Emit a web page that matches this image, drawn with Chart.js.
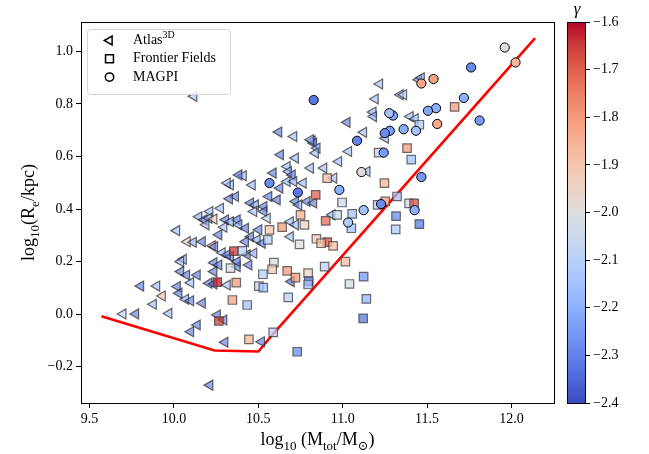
<!DOCTYPE html>
<html><head><meta charset="utf-8">
<script src="https://cdn.jsdelivr.net/npm/chart.js@4/dist/chart.umd.min.js"></script>
<style>
html,body{margin:0;padding:0;background:#fff;overflow:hidden}
#wrap{position:relative;width:649px;height:454px}
canvas{position:absolute;left:0;top:0}
</style></head>
<body><div id="wrap"><canvas id="main" width="649" height="454"></canvas><canvas id="cbar" width="649" height="454"></canvas></div>
<script>
// ---------- DATA ----------
const atlasMass = [10.118,11.219,11.193,11.341,11.18,11.183,11.026,11.124,10.621,10.71,10.819,11.253,11.45,11.361,11.4,11.43,10.828,10.848,10.631,10.72,10.838,11.035,10.976,10.809,10.671,10.588,10.888,10.411,10.679,10.701,10.671,10.71,10.766,10.627,10.464,10.335,10.947,11.144,10.789,10.937,10.828,10.562,10.612,10.454,10.483,10.533,10.473,10.533,10.72,10.74,10.365,10.553,10.69,10.72,10.375,10.385,10.424,10.503,10.454,10.493,10.69,10.424,10.523,10.434,10.473,10.335,10.444,10.375,10.385,10.316,10.329,10.276,10.213,10.148,10.178,10.207,10.237,10.306,10.335,10.19,10.296,10.016,10.266,10.079,10.115,10.168,10.227,10.241,10.286,10.056,10.237,10.266,10.316,10.04,10.04,10.075,10.138,10.099,10.237,10.207,10.237,10.316,9.803,9.898,10.02,9.931,10.03,10.069,10.099,10.168,9.878,9.698,9.773,9.97,10.257,10.296,10.138,10.099,10.302,10.213,10.695,10.519,10.375,10.809,11.466];
const atlasRe = [0.829,0.876,0.819,0.835,0.769,0.752,0.73,0.692,0.693,0.676,0.66,0.67,0.892,0.835,0.752,0.744,0.651,0.632,0.607,0.594,0.613,0.619,0.581,0.556,0.562,0.537,0.556,0.527,0.543,0.53,0.505,0.505,0.499,0.48,0.492,0.492,0.518,0.543,0.429,0.378,0.423,0.448,0.435,0.423,0.416,0.41,0.391,0.391,0.429,0.416,0.448,0.365,0.352,0.34,0.359,0.34,0.327,0.321,0.295,0.283,0.295,0.276,0.27,0.226,0.232,0.219,0.187,0.181,0.53,0.499,0.439,0.403,0.391,0.371,0.359,0.365,0.362,0.359,0.352,0.34,0.331,0.318,0.302,0.276,0.274,0.276,0.26,0.257,0.234,0.209,0.196,0.187,0.226,0.2,0.162,0.149,0.149,0.12,0.162,0.118,0.115,0.111,0.107,0.107,0.105,0.069,0.08,0.057,0.051,0.042,0.038,0.001,0.001,0.003,-0.003,-0.022,-0.041,-0.067,-0.107,-0.27,0.124,-0.105,0.2,0.664,0.9];
const atlasGamma = [-2.18,-2.18,-2.18,-2.18,-2.18,-2.22,-2.33,-2.18,-2.33,-2.18,-2.33,-2.18,-2.28,-2.12,-2.18,-2.18,-2.33,-2.22,-2.33,-2.18,-2.18,-2.18,-2.18,-2.18,-2.18,-2.33,-2.18,-2.18,-2.22,-2.33,-2.18,-2.22,-2.18,-2.33,-2.18,-2.18,-2.18,-2.18,-2.33,-2.18,-2.33,-2.33,-2.33,-2.33,-2.22,-2.33,-2.18,-2.33,-2.33,-2.22,-2.33,-2.12,-2.18,-2.18,-2.33,-2.22,-2.33,-2.33,-2.33,-2.22,-2.18,-2.33,-2.33,-2.33,-2.22,-2.33,-2.33,-2.33,-2.33,-2.18,-2.33,-2.18,-2.18,-2.22,-2.33,-2.22,-1.9,-2.33,-2.22,-2.18,-2.18,-2.18,-2.33,-1.95,-2.22,-2.33,-1.9,-2.33,-2.18,-2.18,-2.33,-2.33,-2.33,-2.18,-2.33,-2.33,-2.33,-2.18,-2.33,-2.33,-2.33,-2.18,-2.33,-2.18,-2.33,-1.88,-2.33,-2.22,-2.33,-2.33,-2.18,-2.12,-2.33,-2.18,-2.33,-2.33,-2.33,-2.33,-2.33,-2.33,-2.33,-2.33,-2.33,-2.18,-2.22];

const ffMass = [11.663,11.454,11.213,11.381,11.406,11.247,10.908,10.84,10.996,11.056,10.967,10.899,10.75,10.773,10.641,10.566,11.051,11.207,11.252,11.322,11.316,11.314,10.844,10.908,10.872,10.943,10.744,10.556,10.355,10.405,10.592,10.582,10.527,10.671,10.72,10.795,10.799,10.795,10.893,11.016,10.369,10.346,10.503,10.529,10.434,10.677,11.04,11.124,11.14,11.121,10.588,10.444,10.73,10.257,10.266,10.335,11.393,11.423,11.454];
const ffRe = [0.789,0.721,0.615,0.632,0.588,0.499,0.518,0.454,0.425,0.382,0.378,0.355,0.378,0.34,0.331,0.321,0.327,0.416,0.429,0.448,0.373,0.323,0.287,0.274,0.27,0.26,0.266,0.283,0.24,0.241,0.196,0.171,0.152,0.165,0.139,0.156,0.126,0.113,0.181,0.2,0.12,0.054,0.107,0.101,0.035,0.064,0.115,0.143,0.058,-0.016,-0.069,-0.096,-0.143,0.122,-0.026,0.175,0.422,0.422,0.343];
const ffGamma = [-1.8,-2.12,-2.1,-1.8,-2.15,-1.85,-1.88,-1.7,-2.05,-2.15,-2.05,-1.72,-1.85,-1.95,-1.8,-1.9,-2.15,-2.1,-1.8,-2.15,-2.28,-2.12,-1.92,-1.68,-1.88,-1.88,-2.0,-2.1,-1.65,-2.1,-2.02,-1.92,-2.1,-1.8,-1.8,-1.95,-2.32,-2.15,-2.1,-1.88,-1.8,-1.82,-2.05,-2.15,-2.15,-2.1,-2.02,-2.25,-2.18,-2.32,-2.1,-1.85,-2.28,-1.62,-1.65,-2.02,-2.05,-1.68,-2.32];

const magpiMass = [11.96,12.024,11.761,11.538,11.466,11.718,11.553,11.505,11.298,11.276,11.56,11.811,11.361,11.434,11.279,11.249,11.085,11.243,11.111,10.828,10.566,10.734,10.98,11.124,11.227,11.032,11.466,11.426];
const magpiRe = [1.015,0.958,0.939,0.895,0.878,0.823,0.784,0.774,0.756,0.765,0.724,0.737,0.704,0.698,0.698,0.689,0.66,0.615,0.541,0.815,0.499,0.463,0.473,0.396,0.419,0.349,0.522,0.396];
const magpiGamma = [-2.0,-1.86,-2.28,-1.82,-1.83,-2.2,-2.2,-2.22,-2.22,-2.15,-1.83,-2.25,-2.2,-2.15,-2.25,-2.28,-2.3,-2.25,-2.0,-2.32,-2.28,-2.32,-2.2,-2.15,-2.28,-2.12,-2.25,-2.2];

const lineMass = [9.57, 10.24, 10.5, 10.6, 12.14];
const lineRe = [-0.008, -0.138, -0.142, -0.066, 1.051];

const xTicksRange = [9.449, 12.252];
const yTicksRange = [-0.338, 1.112];
const gammaRange = [-2.4, -1.6];

// ---------- COLORMAP (coolwarm) ----------
const CW = [[59,76,192],[77,104,215],[98,130,234],[119,154,247],[141,176,254],[163,194,255],[184,208,249],[204,217,238],[221,221,221],[236,211,197],[245,196,173],[247,177,148],[244,154,123],[236,127,99],[222,96,77],[203,62,56],[180,4,38]];
function cwRGB(t){
  t = Math.max(0, Math.min(1, t));
  const f = t * 16, i = Math.min(15, Math.floor(f)), u = f - i;
  const a = CW[i], b = CW[i+1];
  return [0,1,2].map(k => Math.round(a[k] + (b[k]-a[k])*u));
}
function gColor(g, alpha){
  const c = cwRGB((g - gammaRange[0]) / (gammaRange[1] - gammaRange[0]));
  return `rgba(${c[0]},${c[1]},${c[2]},${alpha})`;
}
const zip = (xs, ys) => xs.map((x,i) => ({x, y: ys[i]}));
const minus = s => s.replace('-', '\u2212');
const FONT = "'Liberation Serif', 'DejaVu Serif', serif";

function richText(ctx, parts, size, x, y, align){
  const sub = Math.round(size*0.7);
  let w = 0;
  parts.forEach(p => { ctx.font = `${p.s ? sub : size}px ${FONT}`; p.w = ctx.measureText(p.t).width; w += p.w; });
  let cx = align === 'center' ? x - w/2 : x;
  parts.forEach(p => {
    ctx.font = `${p.s ? sub : size}px ${FONT}`;
    const dy = p.s === 'sub' ? size*0.28 : (p.s === 'sup' ? -size*0.4 : 0);
    ctx.fillText(p.t, cx, y + dy);
    cx += p.w;
  });
}

const decorPlugin = {
  id: 'decor',
  afterDraw(chart){
    const ctx = chart.ctx, a = chart.chartArea;
    ctx.save();
    ctx.strokeStyle = '#000'; ctx.lineWidth = 1;
    ctx.strokeRect(Math.round(a.left)+0.5, Math.round(a.top)+0.5, Math.round(a.right-a.left), Math.round(a.bottom-a.top));
    ctx.fillStyle = '#000'; ctx.textBaseline = 'alphabetic';
    richText(ctx, [{t:'log'},{t:'10',s:'sub'},{t:' (M'},{t:'tot',s:'sub'},{t:'/M'},{t:'\u2299',s:'sub'},{t:')'}], 18, (a.left+a.right)/2, 445, 'center');
    ctx.save();
    ctx.translate(34, (a.top+a.bottom)/2);
    ctx.rotate(-Math.PI/2);
    richText(ctx, [{t:'log'},{t:'10',s:'sub'},{t:'(R'},{t:'e',s:'sub'},{t:'/kpc)'}], 18, 0, 0, 'center');
    ctx.restore();
    const lx = 87.5, ly = 29.5, lw = 143, lh = 65;
    ctx.beginPath();
    ctx.roundRect(lx, ly, lw, lh, 3);
    ctx.fillStyle = 'rgba(255,255,255,0.85)'; ctx.fill();
    ctx.strokeStyle = '#d5d5d5'; ctx.stroke();
    const items = [
      {style:'triangle', rot:-90, r:5.2, parts:[{t:'Atlas'},{t:'3D',s:'sup'}]},
      {style:'rect', rot:0, r:5.6, parts:[{t:'Frontier Fields'}]},
      {style:'circle', rot:0, r:4.2, parts:[{t:'MAGPI'}]}
    ];
    items.forEach((it, i) => {
      const y = 40.5 + i*18.3;
      ctx.fillStyle = '#fff'; ctx.strokeStyle = '#000'; ctx.lineWidth = 1.5;
      Chart.helpers.drawPoint(ctx, {pointStyle: it.style, rotation: it.rot, radius: it.r, borderWidth: 1.5}, 109.5, y);
      ctx.fillStyle = '#000'; ctx.textBaseline = 'middle';
      richText(ctx, it.parts, 14, 133, y, 'left');
    });
    ctx.restore();
  }
};

const tickFont = {family: FONT, size: 14};
new Chart(document.getElementById('main'), {
  type: 'scatter',
  data: {
    datasets: [
      { label: 'MAGPI', order: 0, data: zip(magpiMass, magpiRe),
        pointStyle: 'circle', pointRadius: 4.6, borderWidth: 1, borderColor: '#000',
        backgroundColor: magpiGamma.map(g => gColor(g, 1)) },
      { label: 'Frontier Fields', order: 1, data: zip(ffMass, ffRe),
        pointStyle: 'rect', pointRadius: 6, borderWidth: 1.2, borderColor: 'rgba(50,50,50,0.7)',
        backgroundColor: ffGamma.map(g => gColor(g, 0.75)) },
      { label: 'Atlas3D', order: 2, data: zip(atlasMass, atlasRe),
        pointStyle: 'triangle', rotation: -90, pointRadius: 5.8, borderWidth: 1.2, borderColor: 'rgba(40,40,40,0.7)',
        backgroundColor: atlasGamma.map(g => gColor(g, 0.6)) },
      { label: 'line', type: 'line', order: 3, data: zip(lineMass, lineRe), showLine: true,
        borderColor: '#ff0000', borderWidth: 2.6, pointRadius: 0, tension: 0, fill: false }
    ]
  },
  options: {
    responsive: false, animation: false, events: [],
    layout: { padding: { left: 0, right: 95, top: 22, bottom: 0 } },
    plugins: { legend: { display: false }, tooltip: { enabled: false } },
    scales: {
      x: { type: 'linear', min: xTicksRange[0], max: xTicksRange[1],
        afterFit: s => { s.height = 51; },
        ticks: { stepSize: 0.5, includeBounds: false, color: '#000', font: tickFont, padding: 3, maxRotation: 0,
          callback: v => minus(v.toFixed(1)) },
        grid: { display: true, drawOnChartArea: false, drawTicks: true, tickLength: 5, color: '#000' },
        border: { display: true, color: '#000' } },
      y: { type: 'linear', min: yTicksRange[0], max: yTicksRange[1],
        afterFit: s => { s.width = 81; },
        ticks: { stepSize: 0.2, includeBounds: false, color: '#000', font: tickFont, padding: 3,
          callback: v => minus(v.toFixed(1)) },
        grid: { display: true, drawOnChartArea: false, drawTicks: true, tickLength: 5, color: '#000' },
        border: { display: true, color: '#000' } }
    }
  },
  plugins: [decorPlugin]
});

// ---------- COLORBAR ----------
const cbarPlugin = {
  id: 'cbar',
  beforeDatasetsDraw(chart){
    const ctx = chart.ctx, a = chart.chartArea;
    const grad = ctx.createLinearGradient(0, a.bottom, 0, a.top);
    for (let i = 0; i <= 32; i++){ const c = cwRGB(i/32); grad.addColorStop(i/32, `rgb(${c[0]},${c[1]},${c[2]})`); }
    ctx.save(); ctx.fillStyle = grad; ctx.fillRect(a.left, a.top, a.right-a.left, a.bottom-a.top); ctx.restore();
  },
  afterDraw(chart){
    const ctx = chart.ctx, a = chart.chartArea;
    ctx.save();
    ctx.strokeStyle = '#000'; ctx.lineWidth = 1;
    ctx.strokeRect(Math.round(a.left)+0.5, Math.round(a.top)+0.5, Math.round(a.right-a.left), Math.round(a.bottom-a.top));
    ctx.fillStyle = '#000'; ctx.textAlign = 'center'; ctx.textBaseline = 'alphabetic';
    ctx.font = `italic 17px ${FONT}`;
    ctx.fillText('\u03B3', (a.left+a.right)/2 + 1, a.top - 8);
    ctx.restore();
  }
};
new Chart(document.getElementById('cbar'), {
  type: 'scatter',
  data: { datasets: [] },
  options: {
    responsive: false, animation: false, events: [],
    layout: { padding: { left: 567, right: 18, top: 22, bottom: 51 } },
    plugins: { legend: { display: false }, tooltip: { enabled: false } },
    scales: {
      x: { display: false, min: 0, max: 1 },
      y: { position: 'right', min: gammaRange[0], max: gammaRange[1],
        afterFit: s => { s.width = 46; },
        ticks: { stepSize: 0.1, color: '#000', font: tickFont, padding: 3,
          callback: v => minus(v.toFixed(1)) },
        grid: { display: true, drawOnChartArea: false, drawTicks: true, tickLength: 5, color: '#000' },
        border: { display: false } }
    }
  },
  plugins: [cbarPlugin]
});
</script>
</body></html>
